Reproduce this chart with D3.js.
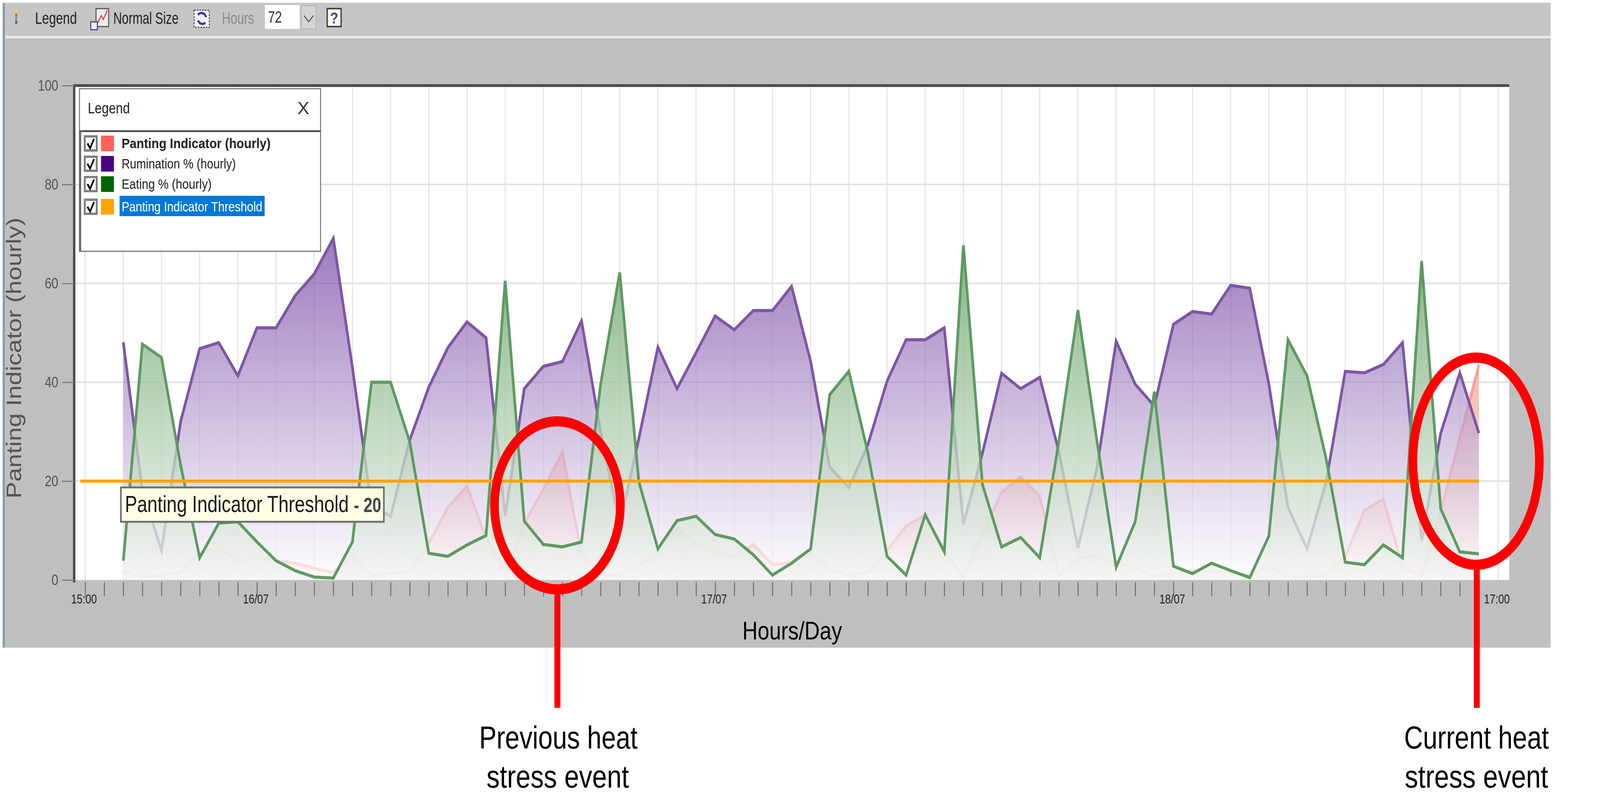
<!DOCTYPE html>
<html>
<head>
<meta charset="utf-8">
<script src="https://cdnjs.cloudflare.com/ajax/libs/d3/7.8.5/d3.min.js"></script>
<style>
  html, body { margin: 0; padding: 0; background: #fff; overflow: hidden; }
  svg { display: block; }
  text { font-family: "Liberation Sans", Arial, sans-serif; }
</style>
</head>
<body>
<svg id="chart"></svg>
<script>
// hourly values, first point is 17:00 on 15/07
const firstHour = 2;
const rumination = [48.1, 18, 6, 32, 46.8, 48, 41.3, 51, 51, 57.5, 61.9, 69.1, 43, 15, 12.9, 28.3, 39, 47, 52.2, 49,
  12.9, 38.7, 43.2, 44.2, 52.4, 30, 11, 28.6, 47.1, 38.7, 46, 53.4, 50.6, 54.5, 54.5, 59.4, 44.2, 22.8, 18.7, 27.4,
  40.2, 48.6, 48.6, 51, 11.2, 25.7, 41.8, 38.7, 41, 26, 6.5, 22.8, 48.3, 39.6, 35.2, 51.7, 54.3, 53.8, 59.6, 59,
  39.6, 14.7, 6.3, 19.9, 42.2, 41.9, 43.6, 48, 8, 29.7, 41.9, 29.7];
const eating = [3.9, 47.7, 45, 23.3, 4.5, 11.5, 11.8, 7.7, 3.9, 1.9, 0.6, 0.4, 7.7, 40, 40, 28, 5.4, 4.8, 7.1, 9,
  60.5, 11.9, 7.2, 6.7, 7.7, 39.6, 62.2, 19.9, 6.3, 12, 12.9, 9.2, 8.3, 5.1, 1, 3.4, 6.3, 37.5, 42.2, 25.7,
  4.8, 1, 13.2, 5.7, 67.7, 19.3, 6.7, 8.6, 4.5, 28, 54.6, 28, 2.6, 11.8, 38.1, 2.8, 1.3, 3.4, 1.9, 0.5,
  8.9, 48.6, 41.3, 24.5, 3.6, 3.1, 7.1, 4.5, 64.5, 14.4, 5.7, 5.3];
const panting = [1.9, 0.6, 1, 1.6, 5.4, 6.5, 3.9, 4.8, 3.9, 3.4, 2.4, 1.5, 5.1, 1, 1.3, 1.8, 7.4, 14.7, 19, 8.6,
  1.3, 11.5, 18.4, 26, 5.1, 1, 1, 3, 5.1, 10.6, 7.1, 5.7, 4.5, 7.2, 3.1, 3.6, 5.4, 2.2, 1, 1.6,
  6, 10.9, 13.2, 6, 0.5, 9.4, 17.8, 20.9, 17, 1, 4.5, 4.8, 3.6, 2.5, 0.8, 1.3, 1.9, 1.9, 1.3, 0.8,
  2.8, 0.5, 0.6, 1, 4.8, 14.1, 16.4, 2.8, 0.8, 14.1, 28.9, 43.6];
const thresholdHours = [-0.25, 73];
const thresholdValue = 20;

const yTicks = [0, 20, 40, 60, 80, 100];
const xLabelHours = [0, 9, 33, 57, 74];
const xLabels = ["15:00", "16/07", "17/07", "18/07", "17:00"];
const legendNames = ["Panting Indicator (hourly)", "Rumination % (hourly)", "Eating % (hourly)", "Panting Indicator Threshold"];
const legendColors = ["#ff6157", "#4b0082", "#006400", "#ffa500"];

// the window can come up narrower than asked for, so the drawing is fitted to it
const svg = d3.select("#chart")
    .attr("width", window.innerWidth)
    .attr("height", window.innerHeight)
    .attr("viewBox", "0 0 4831 2034")
    .attr("preserveAspectRatio", "none");

const x = d3.scaleLinear().domain([0, 74]).range([257, 4523]);
const y = d3.scaleLinear().domain([0, 100]).range([1484, 219]);
const plotLeft = 224, plotRight = 4557, plotTop = 219, plotBottom = 1484;

function label(parent, px, py, str, size, len, opts) {
    opts = opts || {};
    let t = parent.append("text")
        .attr("x", px).attr("y", py)
        .attr("font-size", size)
        .attr("fill", opts.fill || "#000")
        .attr("font-weight", opts.weight || "normal")
        .attr("text-anchor", opts.anchor || "start")
        .text(str);
    if (len) t.attr("textLength", len).attr("lengthAdjust", "spacingAndGlyphs");
    return t;
}

/**window frame**/
svg.append("rect").attr("x", 15).attr("y", 98).attr("width", 4667).attr("height", 1559).attr("fill", "#bfbfbf");
svg.append("rect").attr("x", 15).attr("y", 7).attr("width", 4667).attr("height", 85).attr("fill", "#c6c6c6");
svg.append("rect").attr("x", 15).attr("y", 92).attr("width", 4667).attr("height", 6).attr("fill", "#ececec");
svg.append("rect").attr("x", 8).attr("y", 7).attr("width", 7).attr("height", 1650).attr("fill", "#8d99a6");

/**toolbar**/
const toolbar = svg.append("g");
["#e8d94a", "#e8503a", "#5cb85c", "#3a56c8"].forEach(function (c, i) {
    toolbar.append("rect").attr("x", 46).attr("y", 26 + i * 9).attr("width", 6).attr("height", 8).attr("fill", c);
});
label(toolbar, 106, 61, "Legend", 42, 126, { fill: "#222" });
toolbar.append("rect").attr("x", 290).attr("y", 22).attr("width", 38).attr("height", 46).attr("fill", "#eee").attr("stroke", "#555").attr("stroke-width", 3);
toolbar.append("path").attr("d", "M294 60 L306 40 L312 50 L324 26").attr("fill", "none").attr("stroke", "#d04040").attr("stroke-width", 3);
toolbar.append("rect").attr("x", 274).attr("y", 56).attr("width", 20).attr("height", 20).attr("fill", "#eee").attr("stroke", "#4040a0").attr("stroke-width", 3);
label(toolbar, 342, 61, "Normal Size", 42, 197, { fill: "#222" });
toolbar.append("rect").attr("x", 586).attr("y", 26).attr("width", 46).attr("height", 44).attr("fill", "#f2f2f2").attr("stroke", "#555").attr("stroke-width", 3).attr("stroke-dasharray", "5 3");
toolbar.append("path").attr("d", "M598 38 A14 14 0 0 1 622 44 M620 58 A14 14 0 0 1 598 52").attr("fill", "none").attr("stroke", "#3a3aa8").attr("stroke-width", 6);
label(toolbar, 670, 61, "Hours", 42, 97, { fill: "#8a8a8a" });
toolbar.append("rect").attr("x", 800).attr("y", 13).attr("width", 105).attr("height", 61).attr("fill", "#fff");
label(toolbar, 809, 58, "72", 42, 42, { fill: "#333" });
toolbar.append("rect").attr("x", 910).attr("y", 15).attr("width", 44).attr("height", 59).attr("fill", "#d4d4d4").attr("stroke", "#b0b0b0").attr("stroke-width", 2);
toolbar.append("path").attr("d", "M918 40 L932 56 L946 40").attr("fill", "none").attr("stroke", "#555").attr("stroke-width", 3);
toolbar.append("rect").attr("x", 988).attr("y", 22).attr("width", 42).attr("height", 46).attr("fill", "#fffde8").attr("stroke", "#444").attr("stroke-width", 4);
label(toolbar, 1009, 60, "?", 40, null, { fill: "#4040a8", weight: "bold", anchor: "middle" });

/**plot background and grid**/
svg.append("rect").attr("x", plotLeft).attr("y", plotTop).attr("width", plotRight - plotLeft).attr("height", plotBottom - plotTop).attr("fill", "#fff");

const gridHours = d3.range(0, 75, 2);
svg.append("g").selectAll("line").data(gridHours).join("line")
    .attr("x1", d => x(d)).attr("x2", d => x(d))
    .attr("y1", plotTop).attr("y2", plotBottom)
    .attr("stroke", "#e2e2e2").attr("stroke-width", 3);
svg.append("g").selectAll("line").data(yTicks.slice(1, 5)).join("line")
    .attr("x1", plotLeft).attr("x2", plotRight)
    .attr("y1", d => y(d)).attr("y2", d => y(d))
    .attr("stroke", "#e2e2e2").attr("stroke-width", 4);

svg.append("path")
    .attr("d", `M${plotLeft} ${plotBottom + 6} V${plotTop} H${plotRight}`)
    .attr("fill", "none").attr("stroke", "#4a4a4a").attr("stroke-width", 7);

/**axes**/
const yAxis = svg.append("g").attr("transform", `translate(${plotLeft},0)`)
    .call(d3.axisLeft(y).tickValues(yTicks).tickSize(37).tickPadding(11));
yAxis.select(".domain").remove();
yAxis.selectAll("line").attr("stroke", "#808080").attr("stroke-width", 3);
yAxis.attr("font-family", null);
yAxis.selectAll("text")
    .attr("font-size", 38).attr("fill", "#555")
    .attr("textLength", d => String(d).length * 20.5).attr("lengthAdjust", "spacingAndGlyphs");

const hourAxis = svg.append("g").attr("transform", `translate(0,${plotBottom + 5})`)
    .call(d3.axisBottom(x).tickValues(d3.range(0, 74)).tickSize(37).tickFormat(""));
hourAxis.select(".domain").remove();
hourAxis.selectAll("line").attr("stroke", "#707070").attr("stroke-width", 3);

const xAxis = svg.append("g").attr("transform", `translate(-4,${plotBottom + 33})`)
    .call(d3.axisBottom(x).tickValues(xLabelHours).tickSize(0).tickPadding(3).tickFormat((d, i) => xLabels[i]));
xAxis.select(".domain").remove();
xAxis.attr("font-family", null);
xAxis.selectAll("text")
    .attr("font-size", 34).attr("fill", "#222")
    .attr("textLength", 78).attr("lengthAdjust", "spacingAndGlyphs");

label(svg, 2392, 1636, "Hours/Day", 64, 301, { fill: "#000", anchor: "middle" });
label(svg, 0, 0, "Panting Indicator (hourly)", 64, 719, { fill: "#555", anchor: "middle" })
    .attr("transform", "translate(64,916) rotate(-90)");

/**series**/
const defs = svg.append("defs");
function gradient(id, stops) {
    let g = defs.append("linearGradient").attr("id", id).attr("x1", 0).attr("x2", 0).attr("y1", 0).attr("y2", 1);
    stops.forEach(function (s) {
        g.append("stop").attr("offset", s[0]).attr("stop-color", s[1]).attr("stop-opacity", s[2]);
    });
}
gradient("fillPanting", [[0, "#f8bbaf", 1], [0.55, "#f8cfc6", 1], [1, "#fdf5f3", 1]]);
gradient("fillRumination", [[0, "#67349a", 0.65], [1, "#ffffff", 0.65]]);
gradient("fillEating", [[0, "#65a465", 0.78], [1, "#f4f4f4", 0.78]]);

const area = d3.area().x((d, i) => x(firstHour + i)).y0(y(0)).y1(d => y(d));
const line = d3.line().x((d, i) => x(firstHour + i)).y(d => y(d));

function drawSeries(values, fillId, stroke, strokeOpacity) {
    svg.append("path").attr("d", area(values)).attr("fill", `url(#${fillId})`);
    svg.append("path").attr("d", line(values))
        .attr("fill", "none").attr("stroke", stroke).attr("stroke-opacity", strokeOpacity)
        .attr("stroke-width", 8).attr("stroke-linejoin", "miter");
}
drawSeries(panting, "fillPanting", "#ff6b5e", 0.5);
drawSeries(rumination, "fillRumination", "#7f55a5", 1);
drawSeries(eating, "fillEating", "#5e9a62", 1);

svg.append("path")
    .attr("d", d3.line().x(d => x(d)).y(() => y(thresholdValue))(thresholdHours))
    .attr("fill", "none").attr("stroke", "#ffa500").attr("stroke-width", 8);

/**legend window**/
const legend = svg.append("g");
legend.append("rect").attr("x", 240).attr("y", 227).attr("width", 728).attr("height", 416).attr("fill", "#fff").attr("stroke", "#777").attr("stroke-width", 3);
legend.append("rect").attr("x", 239).attr("y", 333).attr("width", 729).attr("height", 5).attr("fill", "#555");
legend.append("rect").attr("x", 239).attr("y", 333).attr("width", 6).attr("height", 310).attr("fill", "#666");
label(legend, 265, 290, "Legend", 38, 127, { fill: "#222" });
label(legend, 916, 292, "X", 44, 36, { fill: "#333", anchor: "middle" });

const rowY = [367, 419, 471, 529];
const legendWidths = [450, 345, 272, 425];
legend.append("rect").attr("x", 361).attr("y", 501).attr("width", 438).attr("height", 52).attr("fill", "#0078d7");
legendNames.forEach(function (name, i) {
    let row = legend.append("g").attr("transform", `translate(0,${rowY[i]})`);
    row.append("rect").attr("x", 256).attr("y", -18).attr("width", 36).attr("height", 36).attr("fill", "#fff").attr("stroke", "#808080").attr("stroke-width", 6);
    row.append("path").attr("d", "M264 0 L272 12 L284 -12").attr("fill", "none").attr("stroke", "#000").attr("stroke-width", 5);
    row.append("rect").attr("x", 305).attr("y", -20).attr("width", 39).attr("height", 40).attr("fill", legendColors[i]);
    label(row, 367, 12, name, 35, legendWidths[i], {
        fill: i === 3 ? "#fff" : "#222",
        weight: i === 0 ? "bold" : "normal"
    });
});

/**threshold tooltip**/
const tip = svg.append("g");
tip.append("rect").attr("x", 365).attr("y", 1247).attr("width", 794).attr("height", 88).attr("fill", "#ffffe6").attr("stroke", "#707070").attr("stroke-width", 5);
const tipText = label(tip, 377, 1310, "Panting Indicator Threshold ", 60, 774, { fill: "#1a1a1a" });
tipText.append("tspan").attr("fill", "#444").attr("font-weight", "bold").attr("font-size", 52).text("- 20");

/**red annotations**/
const notes = svg.append("g");
notes.append("ellipse").attr("cx", 1683).attr("cy", 1293).attr("rx", 190).attr("ry", 215).attr("fill", "none").attr("stroke", "#ff0000").attr("stroke-width", 26);
notes.append("ellipse").attr("cx", 4457).attr("cy", 1180).attr("rx", 191).attr("ry", 265).attr("fill", "none").attr("stroke", "#ff0000").attr("stroke-width", 26);
notes.append("rect").attr("x", 1674).attr("y", 1515).attr("width", 18).attr("height", 296).attr("fill", "#ff0000");
notes.append("rect").attr("x", 4450).attr("y", 1450).attr("width", 18).attr("height", 361).attr("fill", "#ff0000");
label(notes, 1686, 1915, "Previous heat", 81, 478, { anchor: "middle" });
label(notes, 1684, 2015, "stress event", 81, 430, { anchor: "middle" });
label(notes, 4458, 1915, "Current heat", 81, 437, { anchor: "middle" });
label(notes, 4458, 2015, "stress event", 81, 433, { anchor: "middle" });
</script>
</body>
</html>
